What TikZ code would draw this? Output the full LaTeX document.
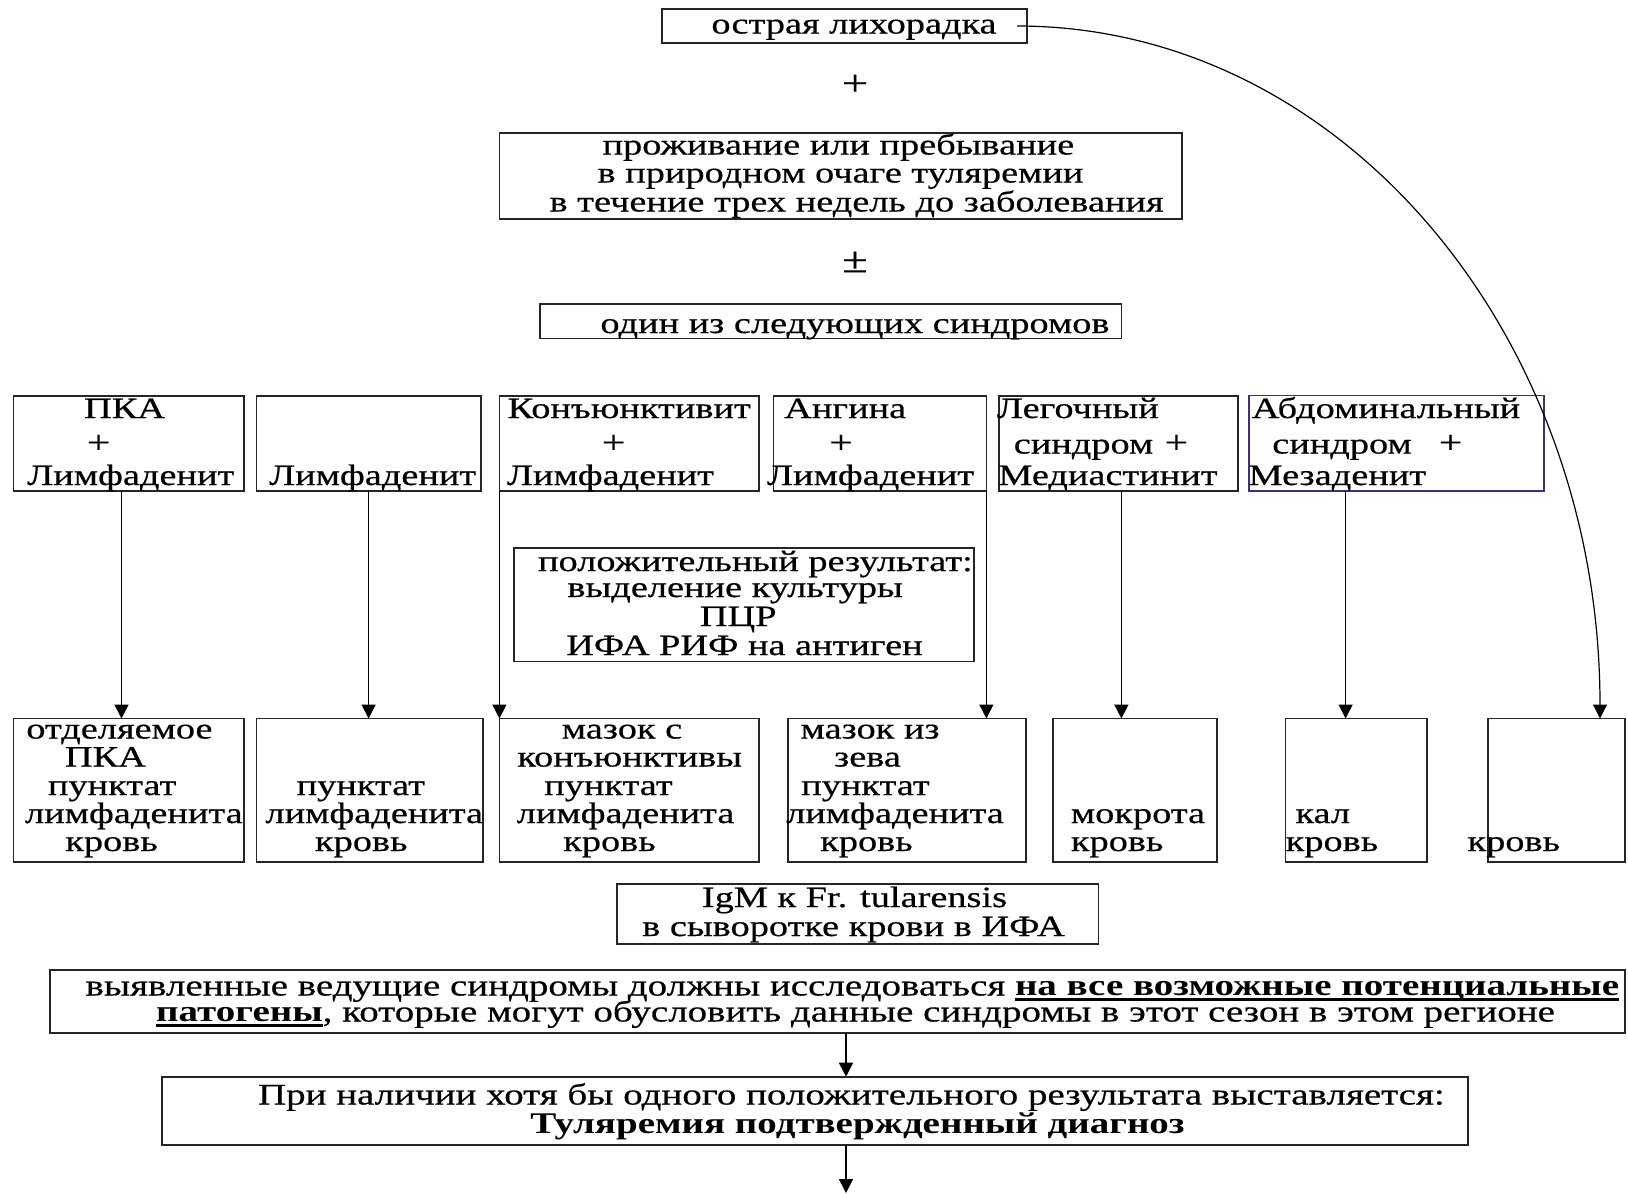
\documentclass[tikz,border=0pt]{standalone}
\usepackage{fontspec}
\setmainfont{Liberation Serif}[FakeStretch=1.3,UprightFeatures={FakeBold=0.5}]
\usetikzlibrary{arrows.meta}
\definecolor{boxblue}{RGB}{50,50,140}
\newcommand\mybox[6][]{%
  \node[boxst,#1,minimum width={(#5-#3)*1pt},minimum height={(#6-#4)*1pt}] (#2) at ({(#3+#5)/2},{(#4+#6)/2}) {};}
\newcommand\tx[4]{\node[txt] (#1) at (#2,#3) {#4};}
\newcommand\pl[3]{\node[plusst] (#1) at (#2,#3) {+};}
\newcommand\thul[1]{\setbox0\hbox{#1}\rlap{\rule[-5pt]{\wd0}{2.6pt}}\box0}
\begin{document}
\begin{tikzpicture}[x=1pt,y=-1pt,
  boxst/.style={draw=black!85, line width=1.8pt, rectangle, inner sep=0pt, outer sep=0pt},
  bluebox/.style={draw=boxblue, line width=1.5pt},
  txt/.style={inner sep=0pt, outer sep=0pt, font=\fontsize{29.5}{29.5}\selectfont, anchor=base, text height=19pt, text depth=5.5pt},
  wtxt/.style={txt, font=\fontsize{30}{30}\selectfont},
  plusst/.style={inner sep=0pt, outer sep=0pt, font=\fontsize{32}{32}\selectfont, anchor=center},
  bigsign/.style={inner sep=0pt, outer sep=0pt, font=\fontsize{36}{36}\selectfont, anchor=center},
  arr/.style={line width=1.6pt, -{Triangle[length=14pt,width=14pt]}}]
\fill[white] (0,0) rectangle (1628,1194);
\useasboundingbox (0,0) rectangle (1628,1194);
% boxes
\mybox{top}{662}{9}{1027}{43}
\mybox{stay}{499.4}{133}{1181.6}{219}
\mybox{one}{540}{304.2}{1121.4}{338.5}
\mybox{sA}{13.5}{395.6}{244}{491.1}
\mybox{sB}{256.5}{395.6}{480.7}{491.1}
\mybox{sC}{499.4}{395.6}{759}{491.1}
\mybox{sD}{773.5}{395.6}{986.4}{491.1}
\mybox{sE}{998.8}{395.6}{1237.7}{491.1}
\mybox[bluebox]{sF}{1249}{395.6}{1544}{491.1}
\mybox{pos}{514}{548.2}{974}{661.4}
\mybox{mA}{13.5}{718.5}{244}{861.8}
\mybox{mB}{256.5}{718.5}{482.8}{861.8}
\mybox{mC}{499.4}{718.5}{759}{861.8}
\mybox{mD}{788}{718.5}{1025.8}{861.8}
\mybox{mE}{1052.8}{718.5}{1216.9}{861.8}
\mybox{mF}{1285.4}{718.5}{1426.6}{861.8}
\mybox{mG}{1487.9}{718.5}{1625}{861.8}
\mybox{igm}{616.8}{883.6}{1098.5}{943.8}
\mybox{big}{49.8}{969.8}{1625}{1033.1}
\mybox{fin}{162}{1076.7}{1468.2}{1145.3}
% texts
\tx{t0}{854}{33.5}{острая лихорадка}
\node[bigsign] (p0) at (855,85) {+};
\tx{t1}{838.4}{154.5}{проживание или пребывание}
\tx{t2}{840.5}{182.5}{в природном очаге туляремии}
\tx{t3}{856.6}{211.5}{в течение трех недель до заболевания}
\node[bigsign] (p1) at (855,262) {±};
\tx{t4}{855}{333}{один из следующих синдромов}
% syndromes
\tx{a1}{124.6}{418}{ПКА}
\pl{a2}{98.6}{444}
\tx{a3}{130.8}{485}{Лимфаденит}
\tx{b1}{372.7}{485}{Лимфаденит}
\tx{c1}{629.2}{418}{Конъюнктивит}
\pl{c2}{613.6}{444}
\tx{c3}{610.5}{485}{Лимфаденит}
\tx{d1}{845.2}{418}{Ангина}
\pl{d2}{841}{444}
\tx{d3}{870.6}{485}{Лимфаденит}
\tx{e1}{1077.8}{418}{Легочный}
\tx{e2}{1083.5}{453.5}{синдром}
\pl{e3}{1176.4}{444}
\tx{e4}{1107.9}{485}{Медиастинит}
\tx{f1}{1386}{418}{Абдоминальный}
\tx{f2}{1342}{453.5}{синдром}
\pl{f3}{1450.5}{444}
\tx{f4}{1337.3}{485}{Мезаденит}
% positive result
\tx{g1}{755.4}{571}{положительный результат:}
\tx{g2}{735.1}{597}{выделение культуры}
\tx{g3}{738.2}{626}{ПЦР}
\tx{g4}{744.5}{655}{ИФА РИФ на антиген}
% materials
\tx{ma1}{119.4}{738.5}{отделяемое}
\tx{ma2}{105.4}{766.5}{ПКА}
\tx{ma3}{112.1}{795}{пунктат}
\tx{ma4}{133.9}{823}{лимфаденита}
\tx{ma5}{111.6}{851}{кровь}
\tx{mb3}{360.8}{795}{пунктат}
\tx{mb4}{374.3}{823}{лимфаденита}
\tx{mb5}{361.3}{851}{кровь}
\tx{mc1}{622}{738.5}{мазок с}
\tx{mc2}{629.7}{766.5}{конъюнктивы}
\tx{mc3}{608.4}{795}{пунктат}
\tx{mc4}{625.6}{823}{лимфаденита}
\tx{mc5}{609.5}{851}{кровь}
\tx{md1}{870.1}{738.5}{мазок из}
\tx{md2}{867.5}{766.5}{зева}
\tx{md3}{865.4}{795}{пунктат}
\tx{md4}{895}{823}{лимфаденита}
\tx{md5}{866.5}{851}{кровь}
\tx{me4}{1138}{823}{мокрота}
\tx{me5}{1117.2}{851}{кровь}
\tx{mf4}{1322.8}{823}{кал}
\tx{mf5}{1332}{851}{кровь}
\tx{mg5}{1513.8}{851}{кровь}
% IgM
\tx{i1}{854.5}{907}{IgM к Fr. tularensis}
\tx{i2}{853.5}{936}{в сыворотке крови в ИФА}
% big
\node[wtxt] (h1) at (852.4,995.5) {выявленные ведущие синдромы должны исследоваться \thul{\textbf{на все возможные потенциальные}}};
\node[wtxt] (h2) at (855.6,1021.5) {\thul{\textbf{патогены}}, которые могут обусловить данные синдромы в этот сезон в этом регионе};
\node[wtxt] (k1) at (851.4,1104.5) {При наличии хотя бы одного положительного результата выставляется:};
\node[wtxt] (k2) at (857.6,1133.5) {\textbf{Туляремия подтвержденный диагноз}};
% arrows
\coordinate (xa) at (121.5,0);
\coordinate (xb) at (368.6,0);
\coordinate (xe) at (1121.4,0);
\coordinate (xf) at (1345.6,0);
\coordinate (xg) at (1600,0);
\coordinate (xh) at (846,0);
\coordinate (endp) at (846,1193);
\draw[arr] (xa |- sA.south) -- (xa |- mA.north);
\draw[arr] (xb |- sB.south) -- (xb |- mB.north);
\draw[arr] (sC.south west) -- (mC.north west);
\draw[arr] (sD.south east) -- (sD.south east |- mD.north);
\draw[arr] (xe |- sE.south) -- (xe |- mE.north);
\draw[arr] (xf |- sF.south) -- (xf |- mF.north);
\draw[arr,line width=1.2pt] ([xshift=-10pt]top.east) .. controls (1343,26) and (1600,336) .. (xg |- mG.north);
\draw[arr] (xh |- big.south) -- (xh |- fin.north);
\draw[arr] (xh |- fin.south) -- (endp);
\end{tikzpicture}
\end{document}
